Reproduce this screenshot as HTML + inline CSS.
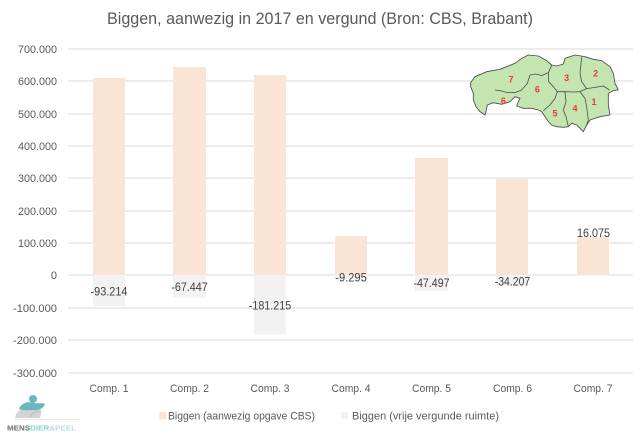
<!DOCTYPE html>
<html>
<head>
<meta charset="utf-8">
<style>
html,body{margin:0;padding:0;background:#fff;}
svg{display:block;}
text{font-family:"Liberation Sans",sans-serif;}
</style>
</head>
<body>
<svg width="643" height="436" viewBox="0 0 643 436" xmlns="http://www.w3.org/2000/svg">
<rect x="0" y="0" width="643" height="436" fill="#fff"/>

<!-- Title -->
<text x="320" y="24" font-size="17" fill="#595959" text-anchor="middle" textLength="426" lengthAdjust="spacingAndGlyphs">Biggen, aanwezig in 2017 en vergund (Bron: CBS, Brabant)</text>

<!-- Gridlines -->
<g stroke="#d9d9d9" stroke-width="1" shape-rendering="crispEdges">
<line x1="68" x2="633" y1="49" y2="49"/>
<line x1="68" x2="633" y1="81" y2="81"/>
<line x1="68" x2="633" y1="114" y2="114"/>
<line x1="68" x2="633" y1="146" y2="146"/>
<line x1="68" x2="633" y1="178" y2="178"/>
<line x1="68" x2="633" y1="211" y2="211"/>
<line x1="68" x2="633" y1="243" y2="243"/>
<line x1="68" x2="633" y1="275" y2="275"/>
<line x1="68" x2="633" y1="308" y2="308"/>
<line x1="68" x2="633" y1="340" y2="340"/>
<line x1="68" x2="633" y1="373" y2="373"/>
</g>

<!-- Y axis labels -->
<g font-size="11" fill="#595959" text-anchor="end">
<text x="57" y="53" textLength="39" lengthAdjust="spacingAndGlyphs">700.000</text>
<text x="57" y="85" textLength="39" lengthAdjust="spacingAndGlyphs">600.000</text>
<text x="57" y="118" textLength="39" lengthAdjust="spacingAndGlyphs">500.000</text>
<text x="57" y="150" textLength="39" lengthAdjust="spacingAndGlyphs">400.000</text>
<text x="57" y="182" textLength="39" lengthAdjust="spacingAndGlyphs">300.000</text>
<text x="57" y="215" textLength="39" lengthAdjust="spacingAndGlyphs">200.000</text>
<text x="57" y="247" textLength="39" lengthAdjust="spacingAndGlyphs">100.000</text>
<text x="57" y="279">0</text>
<text x="57" y="312" textLength="44" lengthAdjust="spacingAndGlyphs">-100.000</text>
<text x="57" y="344" textLength="44" lengthAdjust="spacingAndGlyphs">-200.000</text>
<text x="57" y="377" textLength="44" lengthAdjust="spacingAndGlyphs">-300.000</text>
</g>

<!-- Positive bars (aanwezig) -->
<g fill="#fae4d6" shape-rendering="crispEdges">
<rect x="93" y="78" width="32" height="197.5"/>
<rect x="173" y="67" width="33" height="208.5"/>
<rect x="254" y="75" width="32" height="200.5"/>
<rect x="335" y="236" width="32" height="39.5"/>
<rect x="415" y="158" width="33" height="117.5"/>
<rect x="496" y="179" width="32" height="96.5"/>
<rect x="577" y="236.5" width="32" height="39"/>
</g>

<!-- Negative bars (vrije vergunde ruimte) -->
<g fill="#f2f2f2" shape-rendering="crispEdges">
<rect x="93" y="276" width="32" height="30"/>
<rect x="173" y="276" width="33" height="21.5"/>
<rect x="254" y="276" width="32" height="58.5"/>
<rect x="335" y="276" width="32" height="3"/>
<rect x="415" y="276" width="33" height="15"/>
<rect x="496" y="276" width="32" height="10.5"/>
</g>

<!-- Data labels -->
<g font-size="12" fill="#404040" text-anchor="middle">
<text x="109" y="295.5" textLength="37" lengthAdjust="spacingAndGlyphs">-93.214</text>
<text x="189.5" y="291" textLength="36.5" lengthAdjust="spacingAndGlyphs">-67.447</text>
<text x="270" y="309.5" textLength="42.5" lengthAdjust="spacingAndGlyphs">-181.215</text>
<text x="351" y="281.5" textLength="31.5" lengthAdjust="spacingAndGlyphs">-9.295</text>
<text x="431.5" y="287" textLength="36" lengthAdjust="spacingAndGlyphs">-47.497</text>
<text x="512.5" y="285.5" textLength="35.5" lengthAdjust="spacingAndGlyphs">-34.207</text>
<text x="593.5" y="237" textLength="33" lengthAdjust="spacingAndGlyphs">16.075</text>
</g>

<!-- Category labels -->
<g font-size="11" fill="#595959" text-anchor="middle">
<text x="109" y="392" textLength="39" lengthAdjust="spacingAndGlyphs">Comp. 1</text>
<text x="189.5" y="392" textLength="39" lengthAdjust="spacingAndGlyphs">Comp. 2</text>
<text x="270" y="392" textLength="39" lengthAdjust="spacingAndGlyphs">Comp. 3</text>
<text x="351" y="392" textLength="39" lengthAdjust="spacingAndGlyphs">Comp. 4</text>
<text x="431.5" y="392" textLength="39" lengthAdjust="spacingAndGlyphs">Comp. 5</text>
<text x="512.5" y="392" textLength="39" lengthAdjust="spacingAndGlyphs">Comp. 6</text>
<text x="593" y="392" textLength="39" lengthAdjust="spacingAndGlyphs">Comp. 7</text>
</g>

<!-- Legend -->
<rect x="159" y="412" width="7" height="7" fill="#fae4d6"/>
<text x="168" y="419.5" font-size="11" fill="#595959" textLength="147" lengthAdjust="spacingAndGlyphs">Biggen (aanwezig opgave CBS)</text>
<rect x="341" y="412" width="7" height="7" fill="#f2f2f2"/>
<text x="352" y="419.5" font-size="11" fill="#595959" textLength="147" lengthAdjust="spacingAndGlyphs">Biggen (vrije vergunde ruimte)</text>

<!-- Map -->
<g transform="translate(450,40) scale(0.33333)">
<path d="M62,128 L75,110 L110,95 L150,88 L195,70 L215,55 L235,45 L265,48 L290,62 L305,75 L320,78 L340,72 L345,55 L375,45 L405,50 L430,58 L455,62 L480,80 L490,100 L495,130 L505,150 L490,152 L475,160 L475,195 L480,225 L450,230 L420,240 L410,255 L400,275 L390,265 L380,255 L365,250 L355,260 L340,262 L320,260 L305,255 L295,245 L285,230 L275,215 L265,210 L245,205 L220,205 L200,198 L205,185 L210,175 L195,170 L180,185 L155,193 L130,188 L112,195 L108,215 L105,225 L90,215 L78,200 L70,180 L70,160 L62,140 Z" fill="#c5e5b0" stroke="#4a4a4a" stroke-width="2.6" stroke-linejoin="round"/>
<g fill="none" stroke="#4a4a4a" stroke-width="2.4" stroke-linejoin="round">
<polyline points="135,150 150,152 170,157 195,158 215,150 232,130 240,105 258,102 275,107 295,98 305,76"/>
<polyline points="295,98 296,125 310,140 322,155"/>
<polyline points="395,52 392,80 390,100 395,125 410,146"/>
<polyline points="322,155 345,155 370,156 390,155 410,146 435,142 460,138 478,150"/>
<polyline points="322,155 315,175 300,195 280,212"/>
<polyline points="345,155 348,185 340,210 348,230 355,260"/>
<polyline points="390,155 405,175 410,200 415,240 410,255"/>
</g>
<g font-size="27" font-weight="bold" fill="#e8383d" text-anchor="middle">
<text x="183" y="127">7</text>
<text x="350" y="123">3</text>
<text x="437" y="110">2</text>
<text x="262" y="158">6</text>
<text x="160" y="192">6</text>
<text x="432" y="195">1</text>
<text x="375" y="215">4</text>
<text x="315" y="230">5</text>
</g>
</g>

<!-- Logo -->
<g>
<path d="M15,418 C16,412 20,409 26,409 C30,408 34,410 37,408 C40,407 42,410 41,414 L40,418 Z" fill="#d3d3d3"/>
<path d="M19,409 C21,403 28,401 33,403 C38,404 42,402 45,404 C43,409 38,411 32,410 C27,410 23,411 19,409 Z" fill="#69b8bd"/>
<circle cx="33" cy="399" r="4" fill="#69b8bd"/>
<path d="M30,417 C32,413 36,411 40,412" stroke="#bcbcbc" stroke-width="1" fill="none"/>
<line x1="15" y1="419.5" x2="80" y2="419.5" stroke="#e6e6e6" stroke-width="1"/>
<text x="7" y="430.5" font-size="7.6" font-weight="bold" textLength="69" lengthAdjust="spacingAndGlyphs"><tspan fill="#707070">MENS</tspan><tspan fill="#8fcfd2">DIER</tspan><tspan fill="#b8dfe0">&amp;PEEL</tspan></text>
</g>
</svg>
</body>
</html>
